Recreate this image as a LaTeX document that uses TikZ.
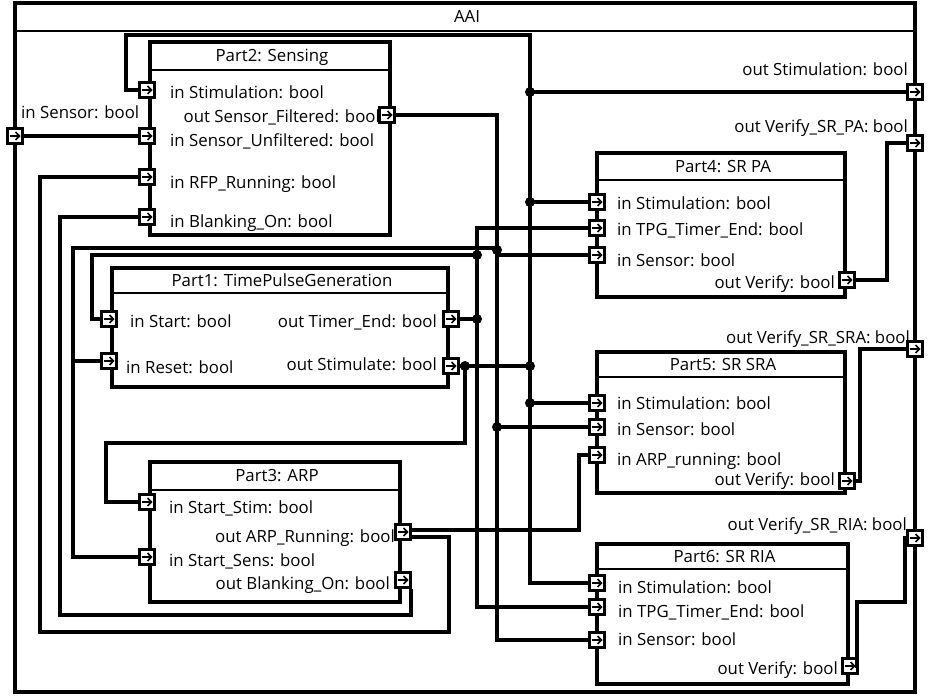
\documentclass[tikz,border=0pt]{standalone}
\usepackage{fontspec}
\setmainfont{Open Sans}
\usetikzlibrary{arrows.meta}

\begin{document}
\begin{tikzpicture}[x=1pt, y=-1pt, font=\fontsize{16.8}{19}\selectfont,
  every node/.style={inner sep=0pt},
  frame/.style={draw, line width=3.1pt},
  wire/.style={line width=3.2pt},
  port/.style={draw, line width=3pt, fill=white, minimum size=15pt,
    path picture={\draw[line width=1.7pt, -{Straight Barb[length=3.8pt,width=8pt]}]
      ([xshift=-5.5pt]path picture bounding box.center) --
      ([xshift=5.5pt]path picture bounding box.center);}},
  lbl/.style={text height=11pt, text depth=0pt},
  jdot/.style={circle, fill, minimum size=10pt}]
  \useasboundingbox (0,0) rectangle (931,696);

  % outer block and parts
  \foreach \nm/\xa/\ya/\xb/\yb/\ys/\ttl in {
      aai/15/3/915/692/31/{AAI},
      part2/150/42/390/235/70/{Part2: Sensing},
      part1/112/268/448/387/293/{Part1: TimePulseGeneration},
      part3/150/462/400/602/490/{Part3: ARP},
      part4/597/153/845/297/180/{Part4: SR PA},
      part5/597/352/845/493/377/{Part5: SR SRA},
      part6/597/544/848/684/569/{Part6: SR RIA}} {
    \draw[frame] (\xa,\ya) rectangle (\xb,\yb);
    \draw[line width=2.6pt] (\xa,\ys) -- (\xb,\ys);
    \node[lbl] (\nm) at ({(\xa+\xb)/2+2},{(\ya+\ys)/2}) {\ttl};
  }

  % port labels
  \foreach \x/\y/\a/\txt [count=\i] in {
      21/113/west/{in Sensor: bool},
      908/70/east/{out Stimulation: bool},
      908/127/east/{out Verify\_SR\_PA: bool},
      910/338/east/{out Verify\_SR\_SRA: bool},
      907/525/east/{out Verify\_SR\_RIA: bool},
      170/93/west/{in Stimulation: bool},
      380/117/east/{out Sensor\_Filtered: bool},
      170/141/west/{in Sensor\_Unfiltered: bool},
      170/183/west/{in RFP\_Running: bool},
      170/222/west/{in Blanking\_On: bool},
      130/322/west/{in Start: bool},
      126/368/west/{in Reset: bool},
      437/322/east/{out Timer\_End: bool},
      437/365/east/{out Stimulate: bool},
      169/508/west/{in Start\_Stim: bool},
      395/537/east/{out ARP\_Running: bool},
      169/561/west/{in Start\_Sens: bool},
      390/584/east/{out Blanking\_On: bool},
      617/204/west/{in Stimulation: bool},
      617/230/west/{in TPG\_Timer\_End: bool},
      617/261/west/{in Sensor: bool},
      835/283/east/{out Verify: bool},
      617/404/west/{in Stimulation: bool},
      617/430/west/{in Sensor: bool},
      617/460/west/{in ARP\_running: bool},
      835/480/east/{out Verify: bool},
      618/588/west/{in Stimulation: bool},
      618/612/west/{in TPG\_Timer\_End: bool},
      618/640/west/{in Sensor: bool},
      838/669/east/{out Verify: bool}} {
    \node[lbl, anchor=\a] (lbl\i) at (\x,\y) {\txt};
  }

  % ports
  \foreach \nm/\x/\y in {
      sensIn/15/136, stimOut/915/92, vpaOut/915/143, vsraOut/915/349,
      vriaOut/915/538,
      p2stim/147/90, p2filt/387/115, p2unf/147/136, p2rfp/147/177,
      p2blk/147/217,
      p1start/109/319, p1reset/109/361, p1timer/451/319, p1stim/451/366,
      p3stim/147/502, p3sens/147/557, p3arp/403/532, p3blk/403/580,
      p4stim/597/202, p4tpg/597/228, p4sens/597/255, p4ver/847/280,
      p5stim/597/403, p5sens/597/427, p5arp/597/455, p5ver/847/481,
      p6stim/597/583, p6tpg/597/607, p6sens/597/640, p6ver/850/666} {
    \node[port] (\nm) at (\x,\y) {};
  }

  % stimulation
  \draw[wire] (sensIn) -- (p2unf);
  \draw[wire] (p2stim) -| (126,35) -- (530,35) |- (p6stim);
  \draw[wire] (p1stim) -- (530,366);
  \draw[wire] (530,92) -- (stimOut);
  \draw[wire] (530,202) -- (p4stim);
  \draw[wire] (530,403) -- (p5stim);
  \draw[wire] (465,366) |- (106,443) |- (p3stim);

  % filtered sensor
  \draw[wire] (p2filt) -| (497,640) -- (p6sens);
  \draw[wire] (497,255) -- (p4sens);
  \draw[wire] (497,248) -| (73,557) -- (p3sens);
  \draw[wire] (73,361) -- (p1reset);
  \draw[wire] (497,427) -- (p5sens);

  % timer end
  \draw[wire] (p4tpg) -| (477,607) -- (p6tpg);
  \draw[wire] (p1timer) -- (477,319);
  \draw[wire] (477,255) -| (92,319) -- (p1start);

  % arp running, blanking
  \draw[wire] ([yshift=2pt]p3arp.east) -| (579,455) -- (p5arp);
  \draw[wire] ([yshift=-5pt]p3arp.east) -| (449,632) -| (40,177) -- (p2rfp);
  \draw[wire] ([xshift=-1pt]p3blk.south east) -- ++(0,26) -| (60,217) -- (p2blk);

  % verify outputs
  \draw[wire] (p4ver) -| (887,143) -- (vpaOut);
  \draw[wire] (p5ver) -| (860,349) -- (vsraOut);
  \draw[wire] (p6ver) -| (857,602) -| (905,538) -- (vriaOut);

  \foreach \nm/\x/\y in {d1/530/92, d2/530/202, d3/530/366, d4/530/403,
      d5/465/366, d6/497/250, d7/497/427, d8/477/319, d9/477/255} {
    \node[jdot] (\nm) at (\x,\y) {};
  }
\end{tikzpicture}
\end{document}
